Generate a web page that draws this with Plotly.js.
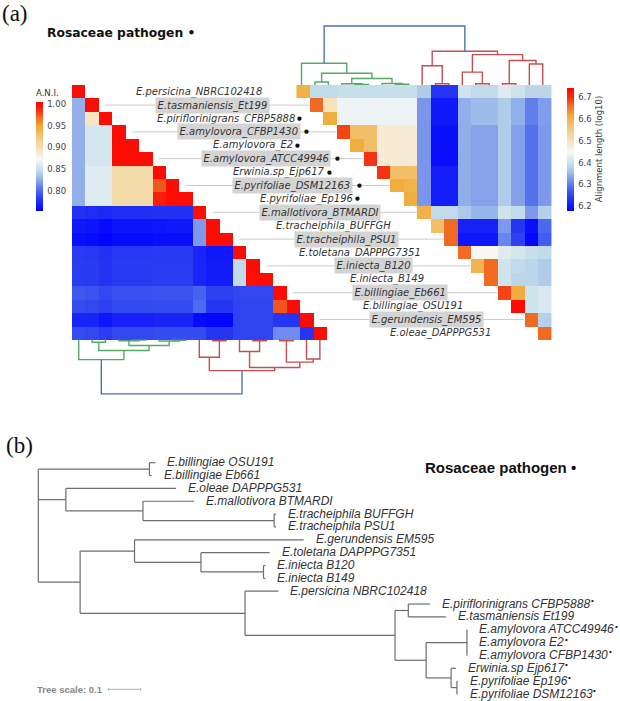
<!DOCTYPE html>
<html><head><meta charset="utf-8">
<script src="https://cdn.plot.ly/plotly-3.0.1.min.js"></script>
<style>html,body{margin:0;padding:0;background:#fff;}#chart{width:620px;height:701px;}</style>
</head><body><div id="chart"></div>
<script>
// ---------- DATA ----------
const strains = ["E.persicina_NBRC102418","E.tasmaniensis_Et199","E.piriflorinigrans_CFBP5888","E.amylovora_CFBP1430","E.amylovora_E2","E.amylovora_ATCC49946","Erwinia.sp_Ejp617","E.pyrifoliae_DSM12163","E.pyrifoliae_Ep196","E.mallotivora_BTMARDI","E.tracheiphila_BUFFGH","E.tracheiphila_PSU1","E.toletana_DAPPPG7351","E.iniecta_B120","E.iniecta_B149","E.billingiae_Eb661","E.billingiae_OSU191","E.gerundensis_EM595","E.oleae_DAPPPG531"];
const rosaceae = [false,false,true,true,true,true,true,true,true,false,false,false,false,false,false,false,false,false,false];

// ANI, lower triangle (row i: columns 0..i)
const aniRows = [
 [1.000],
 [0.828,1.000],
 [0.828,0.895,1.000],
 [0.828,0.857,0.857,1.000],
 [0.828,0.857,0.857,0.999,1.000],
 [0.828,0.857,0.857,0.999,0.999,1.000],
 [0.828,0.862,0.862,0.905,0.905,0.905,1.000],
 [0.828,0.862,0.862,0.905,0.905,0.905,0.975,1.000],
 [0.828,0.862,0.862,0.905,0.905,0.905,0.993,0.999,1.000],
 [0.778,0.776,0.774,0.777,0.777,0.777,0.778,0.778,0.778,1.000],
 [0.766,0.764,0.760,0.764,0.764,0.764,0.765,0.766,0.766,0.820,1.000],
 [0.762,0.760,0.757,0.760,0.760,0.760,0.762,0.762,0.762,0.820,0.999,1.000],
 [0.782,0.781,0.778,0.781,0.781,0.781,0.782,0.782,0.782,0.772,0.766,0.766,1.000],
 [0.783,0.782,0.779,0.782,0.782,0.782,0.783,0.783,0.783,0.772,0.768,0.768,0.848,1.000],
 [0.783,0.782,0.779,0.782,0.782,0.782,0.783,0.783,0.783,0.772,0.768,0.768,0.848,0.999,1.000],
 [0.795,0.793,0.788,0.792,0.792,0.792,0.793,0.793,0.793,0.800,0.785,0.785,0.788,0.788,0.788,1.000],
 [0.790,0.788,0.785,0.789,0.789,0.789,0.790,0.790,0.790,0.803,0.780,0.780,0.787,0.787,0.787,0.975,1.000],
 [0.772,0.772,0.765,0.770,0.770,0.770,0.772,0.772,0.772,0.760,0.758,0.758,0.786,0.786,0.786,0.780,0.780,1.000],
 [0.790,0.788,0.783,0.788,0.788,0.788,0.790,0.790,0.790,0.790,0.780,0.780,0.787,0.786,0.786,0.815,0.815,0.780,1.000]
];

// Alignment length (log10), upper triangle (row i: columns i..18)
const alnRows = [
 [6.605,6.390,6.390,6.395,6.395,6.395,6.395,6.395,6.395,6.372,6.235,6.235,6.405,6.390,6.390,6.423,6.405,6.384,6.384],
 [6.665,6.500,6.440,6.440,6.440,6.440,6.440,6.440,6.325,6.205,6.205,6.345,6.355,6.355,6.372,6.345,6.305,6.330],
 [6.610,6.440,6.440,6.440,6.440,6.440,6.440,6.325,6.205,6.205,6.345,6.355,6.355,6.372,6.345,6.305,6.330],
 [6.690,6.580,6.580,6.480,6.480,6.480,6.325,6.197,6.197,6.344,6.335,6.335,6.372,6.333,6.295,6.327],
 [6.610,6.580,6.480,6.480,6.480,6.325,6.197,6.197,6.344,6.335,6.335,6.372,6.333,6.295,6.327],
 [6.700,6.480,6.480,6.480,6.325,6.195,6.195,6.344,6.335,6.335,6.372,6.333,6.295,6.327],
 [6.700,6.580,6.580,6.325,6.210,6.210,6.344,6.335,6.335,6.372,6.333,6.295,6.327],
 [6.610,6.600,6.325,6.212,6.212,6.344,6.335,6.335,6.372,6.333,6.295,6.327],
 [6.610,6.325,6.212,6.212,6.344,6.335,6.335,6.372,6.333,6.295,6.327],
 [6.605,6.390,6.390,6.370,6.350,6.350,6.405,6.390,6.327,6.378],
 [6.580,6.665,6.214,6.214,6.214,6.327,6.237,6.197,6.287],
 [6.665,6.203,6.203,6.203,6.310,6.248,6.186,6.276],
 [6.665,6.457,6.457,6.423,6.410,6.395,6.390],
 [6.600,6.665,6.406,6.390,6.384,6.372],
 [6.665,6.406,6.384,6.384,6.372],
 [6.690,6.610,6.406,6.418],
 [6.735,6.406,6.418],
 [6.665,6.378],
 [6.665]
];

// Dendrogram (scipy-like linkage over the leaf order above): [childA, childB, height]
const dendroMerges = [
 [4,5,0.010],[3,19,0.020],[7,8,0.012],[6,21,0.025],[1,2,0.050],[20,22,0.110],[23,24,0.200],[0,25,0.368],
 [10,11,0.022],[9,27,0.326],[13,14,0.022],[12,29,0.218],[15,16,0.022],[17,18,0.356],[31,32,0.415],[30,33,0.515],[28,34,0.571],
 [26,35,1.000]
];

// Phylogenetic tree (panel b): parent index and branch length
const treeName = ["","","E.billingiae OSU191","E.billingiae Eb661","","E.oleae DAPPPG531","","E.mallotivora BTMARDI","","E.tracheiphila BUFFGH","E.tracheiphila PSU1",
 "","","E.gerundensis EM595","","E.toletana DAPPPG7351","","E.iniecta B120","E.iniecta B149","","E.persicina NBRC102418","","","E.piriflorinigrans CFBP5888","E.tasmaniensis Et199",
 "","","E.amylovora ATCC49946","E.amylovora E2","E.amylovora CFBP1430","","Erwinia.sp Ejp617","","E.pyrifoliae Ep196","E.pyrifoliae DSM12163"];
const treeParent = [-1,0,1,1,0,4,4,6,6,8,8,0,11,12,12,14,14,16,16,11,19,19,21,22,22,21,25,26,26,26,25,30,30,32,32];
const treeLength = [0,0.343,0.018,0.007,0.085,0.340,0.238,0.158,0.405,0.006,0.006,0.129,0.168,0.522,0.205,0.212,0.193,0.006,0.006,0.509,0.103,0.463,0.041,0.067,0.116,0.096,0.126,0.001,0.001,0.001,0.077,0.015,0.018,0.002,0.002];
const treeRosaceae = ["E.piriflorinigrans CFBP5888","E.amylovora ATCC49946","E.amylovora E2","E.amylovora CFBP1430","Erwinia.sp Ejp617","E.pyrifoliae Ep196","E.pyrifoliae DSM12163"];
const treeScaleValue = 0.1;

// ---------- LAYOUT CONSTANTS ----------
const W = 620, H = 701, splitPx = 400;
const cellPx = 13.4, col0Px = 78.7, row0Px = 91.7;
const upperOffset = 16.75;          // column shift of the upper-right triangle (cells)
const labelOffset = 8.98;           // label centre shift (cells)
const topDendroPx = 59, botDendroPx = 54.3;
const treeX0Px = 38.3, treeUnitPx = 324, treeY0Px = 462.7, leafPx = 12.85;

const colorscale = [
 [0.0,'#0000ff'],[0.1,'#2535f2'],[0.18,'#4563ee'],[0.26,'#7d98ec'],[0.32,'#a4c4e8'],[0.38,'#c6dfea'],
 [0.48,'#f8f8f8'],[0.58,'#f6dfb4'],[0.68,'#f3c77c'],[0.78,'#f0a830'],[0.87,'#f06020'],[0.93,'#f52a10'],[1.0,'#ff0000']
];

const N = strains.length;
const idx = strains.map((_, i) => i);
const zAni = idx.map(i => idx.map(j => (j <= i ? aniRows[i][j] : null)));
const zAln = idx.map(i => idx.map(j => (j >= i ? alnRows[i][j - i] : null)));

const traces = [];
traces.push({
  type:'heatmap', x: idx, y: idx, z: zAni, xaxis:'x', yaxis:'y', colorscale, zmin:0.755, zmax:1.005,
  hoverinfo:'skip',
  colorbar:{x:36/W, xanchor:'left', xpad:0, ypad:0, y:1-148.7/H, yanchor:'middle', len:124, lenmode:'pixels',
    thickness:7, outlinewidth:0, tickvals:[0.80,0.85,0.90,0.95,1.00], tickformat:'.2f', ticks:'outside', ticklen:3, tickcolor:'rgba(0,0,0,0)',
    tickfont:{family:'DejaVu Sans', size:8.5, color:'#444'},
    title:{text:'A.N.I.', side:'top', font:{family:'DejaVu Sans', size:8.5, color:'#333'}}}
});
traces.push({
  type:'heatmap', x: idx.map(j => j + upperOffset), y: idx, z: zAln, xaxis:'x', yaxis:'y', colorscale, zmin:6.18, zmax:6.746,
  hoverinfo:'skip',
  colorbar:{x:566.7/W, xanchor:'left', xpad:0, ypad:0, y:1-149/H, yanchor:'middle', len:123.4, lenmode:'pixels',
    thickness:6.6, outlinewidth:0, tickvals:[6.2,6.3,6.4,6.5,6.6,6.7], tickformat:'.1f', ticks:'outside', ticklen:3, tickcolor:'rgba(0,0,0,0)',
    tickfont:{family:'DejaVu Sans', size:8.5, color:'#444'},
    title:{text:'Alignment length (log10)', side:'right', font:{family:'DejaVu Sans', size:8.5, color:'#333'}}}
});

// connector lines for boxed labels
const lx = [], ly = [];
idx.forEach(i => { if (i % 2 === 1) { lx.push(i + 1.0, i + upperOffset - 0.5, null); ly.push(i, i, null); } });
traces.push({type:'scatter', mode:'lines', x: lx, y: ly, xaxis:'x', yaxis:'y', line:{color:'#cccccc', width:1}, hoverinfo:'skip', showlegend:false});

// dendrograms
const pos = idx.slice(), hgt = idx.map(() => 0);
dendroMerges.forEach(([a, b, h], k) => { pos[N + k] = (pos[a] + pos[b]) / 2; hgt[N + k] = h; });
const colorOf = {};
const palette = ['#55a868', '#c44e52'], aboveColor = '#4c72b0', threshold = 0.7;
let pal = 0;
function paint(id, inherited) {
  if (id < N) return;
  const [a, b, h] = dendroMerges[id - N];
  let c;
  if (h >= threshold) c = aboveColor;
  else c = inherited || palette[pal++ % palette.length];
  colorOf[id] = c;
  const childInherit = h >= threshold ? null : c;
  paint(a, childInherit); paint(b, childInherit);
}
paint(N + dendroMerges.length - 1, null);
function dendroTraces(xShift, toV) {
  const groups = {};
  dendroMerges.forEach(([a, b, h], k) => {
    const c = colorOf[N + k];
    groups[c] = groups[c] || {x: [], y: []};
    const g = groups[c];
    g.x.push(pos[a] + xShift, pos[a] + xShift, pos[b] + xShift, pos[b] + xShift, null);
    g.y.push(toV(hgt[a]), toV(h), toV(h), toV(hgt[b]), null);
  });
  Object.keys(groups).forEach(c => traces.push({type:'scatter', mode:'lines', x: groups[c].x, y: groups[c].y,
    xaxis:'x', yaxis:'y', line:{color:c, width:1.4}, hoverinfo:'skip', showlegend:false}));
}
dendroTraces(0, h => (N - 0.5) + h * botDendroPx / cellPx);
dendroTraces(upperOffset - 0.12, h => -0.5 - h * topDendroPx / cellPx);

// tree
const nT = treeParent.length;
const kids = Array.from({length: nT}, () => []);
treeParent.forEach((p, i) => { if (p >= 0) kids[p].push(i); });
const tx = new Array(nT), ty = new Array(nT);
let leafCount = 0;
(function walk(i, x) {
  tx[i] = x;
  if (kids[i].length === 0) { ty[i] = leafCount++; return; }
  kids[i].forEach(c => walk(c, x + treeLength[c]));
  ty[i] = (ty[kids[i][0]] + ty[kids[i][kids[i].length - 1]]) / 2;
})(0, 0);
const trx = [], tryy = [];
for (let i = 0; i < nT; i++) {
  const p = treeParent[i];
  if (p >= 0) { trx.push(tx[p], tx[i], null); tryy.push(ty[i], ty[i], null); }
  if (kids[i].length) { const f = kids[i][0], l = kids[i][kids[i].length - 1]; trx.push(tx[i], tx[i], null); tryy.push(ty[f], ty[l], null); }
}
traces.push({type:'scatter', mode:'lines', x: trx, y: tryy, xaxis:'x2', yaxis:'y2', line:{color:'#6e6e6e', width:1.2}, hoverinfo:'skip', showlegend:false});

// tree scale bar
const sbX = (108.3 - treeX0Px) / treeUnitPx, sbY = (689.3 - treeY0Px) / leafPx;
traces.push({type:'scatter', mode:'lines', x:[sbX, sbX, null, sbX, sbX + treeScaleValue, null, sbX + treeScaleValue, sbX + treeScaleValue],
  y:[sbY - 0.12, sbY + 0.12, null, sbY, sbY, null, sbY - 0.12, sbY + 0.12], xaxis:'x2', yaxis:'y2',
  line:{color:'#b0b0b0', width:1}, hoverinfo:'skip', showlegend:false});

// ---------- ANNOTATIONS ----------
const ann = [];
const canvas = document.createElement('canvas'), ctx = canvas.getContext('2d');
const labSize = 10;
const labFont = {family:'DejaVu Sans', size:labSize, color:'#333', style:'italic'};
strains.forEach((s, i) => {
  const boxed = i % 2 === 1;
  const a = {x: i + labelOffset, y: i, xref:'x', yref:'y', text: s, showarrow:false, xanchor:'center', yanchor:'middle', font: labFont};
  if (boxed) { a.bgcolor = '#d4d4d4'; a.borderpad = 1.5; }
  ann.push(a);
  if (rosaceae[i]) {
    ctx.font = "italic " + labSize + "px 'DejaVu Sans'";
    const w = ctx.measureText(s).width;
    ann.push({x: i + labelOffset, y: i, xref:'x', yref:'y', text:'●', showarrow:false, xanchor:'center', yanchor:'middle',
      xshift: w / 2 + (boxed ? 8.5 : 5), yshift: 0.5, font:{family:'DejaVu Sans', size:5.5, color:'#111'}});
  }
});
const treeLabSize = 12;
for (let i = 0; i < nT; i++) {
  if (kids[i].length) continue;
  const nm = treeName[i];
  ann.push({x: tx[i], y: ty[i], xref:'x2', yref:'y2', text: nm, showarrow:false,
    xanchor:'left', yanchor:'middle', xshift: 10, yshift: 0.5,
    font:{family:'Liberation Sans', size:treeLabSize, color:'#333', style:'italic'}});
  if (treeRosaceae.includes(nm)) {
    ctx.font = "italic " + treeLabSize + "px 'Liberation Sans'";
    const w = ctx.measureText(nm).width;
    ann.push({x: tx[i], y: ty[i], xref:'x2', yref:'y2', text:'•', showarrow:false, xanchor:'left', yanchor:'middle',
      xshift: 10 + w + 1, yshift: 3.5, font:{family:'Liberation Sans', size:8, color:'#111'}});
  }
}
ann.push({x: 0, y: 1 - 14/H, xref:'paper', yref:'paper', text:'(a)', showarrow:false, xanchor:'left', yanchor:'middle',
  font:{family:'Liberation Serif', size:23, color:'#111'}});
ann.push({x: 4/W, y: 1 - 445/H, xref:'paper', yref:'paper', text:'(b)', showarrow:false, xanchor:'left', yanchor:'middle',
  font:{family:'Liberation Serif', size:23, color:'#111'}});
ann.push({x: 45/W, y: 1 - 33/H, xref:'paper', yref:'paper', text:'Rosaceae pathogen •', showarrow:false, xanchor:'left', yanchor:'middle',
  font:{family:'DejaVu Sans', size:12.3, color:'#111', weight:'bold'}});
ann.push({x: 423/W, y: 1 - 467.7/H, xref:'paper', yref:'paper', text:'Rosaceae pathogen •', showarrow:false, xanchor:'left', yanchor:'middle',
  font:{family:'Liberation Sans', size:15, color:'#111', weight:'bold'}});
ann.push({x: 35/W, y: 1 - 689.5/H, xref:'paper', yref:'paper', text:'Tree scale: ' + treeScaleValue, showarrow:false, xanchor:'left', yanchor:'middle',
  font:{family:'Liberation Sans', size:9.5, color:'#888', weight:'bold'}});

const hidden = {visible:false, showgrid:false, zeroline:false, fixedrange:true};
const layout = {
  width: W, height: H, margin:{l:0, r:0, t:0, b:0}, paper_bgcolor:'#fff', plot_bgcolor:'rgba(0,0,0,0)', showlegend:false,
  xaxis: Object.assign({}, hidden, {domain:[0,1], range:[(0 - col0Px)/cellPx, (W - col0Px)/cellPx], anchor:'y'}),
  yaxis: Object.assign({}, hidden, {domain:[1 - splitPx/H, 1], range:[(splitPx - row0Px)/cellPx, (0 - row0Px)/cellPx], anchor:'x'}),
  xaxis2: Object.assign({}, hidden, {domain:[0,1], range:[(0 - treeX0Px)/treeUnitPx, (W - treeX0Px)/treeUnitPx], anchor:'y2'}),
  yaxis2: Object.assign({}, hidden, {domain:[0, 1 - splitPx/H], range:[(H - treeY0Px)/leafPx, (splitPx - treeY0Px)/leafPx], anchor:'x2'}),
  annotations: ann
};
Plotly.newPlot('chart', traces, layout, {displayModeBar:false, staticPlot:true});
</script>
</body></html>
